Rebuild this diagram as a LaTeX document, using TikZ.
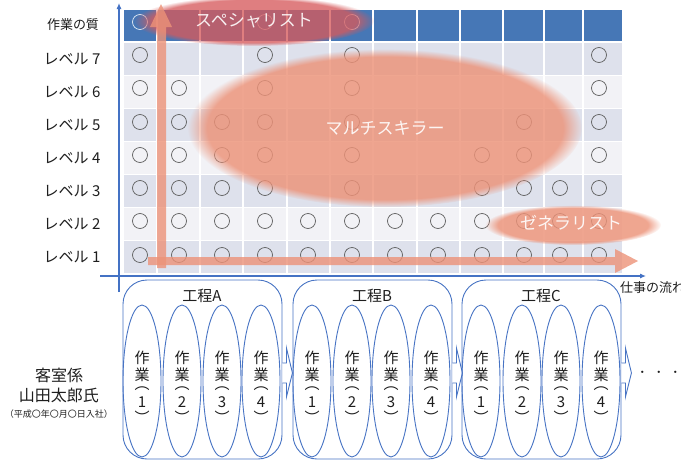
\documentclass[tikz,border=0pt]{standalone}
\usepackage{fontspec}
\setmainfont{Noto Sans CJK JP}
\usetikzlibrary{fadings,shapes.geometric,arrows.meta}
\definecolor{hdrblue}{RGB}{70,119,182}
\definecolor{rowdark}{RGB}{222,225,236}
\definecolor{rowlight}{RGB}{242,242,246}
\definecolor{salmon}{RGB}{236,146,120}
\definecolor{specred}{RGB}{214,90,92}
\definecolor{axisblue}{RGB}{68,114,196}
\definecolor{lineblue}{RGB}{72,116,196}
\definecolor{circgray}{RGB}{95,95,95}
\definecolor{txtdark}{RGB}{30,30,30}
\newcommand{\fsz}[1]{\fontsize{#1}{#1}\selectfont}
\begin{document}
\begin{tikzpicture}[x=1pt,y=-1pt,
  lvl/.style={font=\fsz{15}, text=txtdark, inner sep=0},
  okmark/.style={circle, draw=circgray, line width=0.7pt, minimum size=15pt, inner sep=0},
  hdrmark/.style={okmark, draw=white!85!hdrblue},
  blob/.style={fill=salmon, fill opacity=0.82, path fading=circle with fuzzy edge 10 percent},
  blobtext/.style={text=white, text opacity=0.9, font=\fsz{17}, inner sep=0},
  thickarrow/.style={fill=salmon, fill opacity=0.8},
  axis/.style={draw=axisblue, line width=1.1pt, -{Latex[length=6pt,width=5pt]}},
  proc/.style={draw=lineblue, line width=0.9pt, fill=white, rounded corners=24pt, minimum width=159pt, minimum height=179pt, inner sep=0},
  proctitle/.style={font=\fsz{15}, text=txtdark, inner sep=0},
  task/.style={ellipse, draw=lineblue, line width=0.9pt, minimum width=38pt, minimum height=152pt, inner sep=0},
  tasktext/.style={align=center, inner sep=0, font=\fontsize{15}{16.5}\selectfont, text=txtdark},
  flowarrow/.style={draw=lineblue, line width=0.9pt, fill=white},
  gridline/.style={draw=white, line width=1.5pt},
]
\useasboundingbox (0,0) rectangle (681,461);

% ---------- grid ----------
\fill[hdrblue] (124,10) rectangle (622,41);
\fill[rowdark]  (124,43)  rectangle (622,75);
\fill[rowlight] (124,76)  rectangle (622,108);
\fill[rowdark]  (124,109) rectangle (622,141);
\fill[rowlight] (124,142) rectangle (622,174);
\fill[rowdark]  (124,175) rectangle (622,207);
\fill[rowlight] (124,208) rectangle (622,240);
\fill[rowdark]  (124,241) rectangle (622,273);
\foreach \gx in {157,200,243,287,330,373,417,460,503,544,583}
  \draw[gridline] (\gx,10) -- (\gx,273);

% ---------- marks ----------
\foreach \cx [count=\i] in {140,265,352}
  \node[hdrmark] (h-\i) at (\cx,22) {};
\foreach \cx [count=\i] in {140,265,352,599}
  \node[okmark] (r7-\i) at (\cx,55) {};
\foreach \cx [count=\i] in {140,179,265,352,599}
  \node[okmark] (r6-\i) at (\cx,88) {};
\foreach \cx [count=\i] in {140,179,222,265,352,524,599}
  \node[okmark] (r5-\i) at (\cx,122) {};
\foreach \cx [count=\i] in {140,179,222,265,352,482,524,599}
  \node[okmark] (r4-\i) at (\cx,155) {};
\foreach \cx [count=\i] in {140,179,222,265,352,482,524,560,599}
  \node[okmark] (r3-\i) at (\cx,188) {};
\foreach \cx [count=\i] in {140,179,222,265,308,352,395,438,482,524,560,599}
  \node[okmark] (r2-\i) at (\cx,221) {};
\foreach \cx [count=\i] in {140,179,222,265,308,352,395,438,482,524,560,599}
  \node[okmark] (r1-\i) at (\cx,255) {};

% ---------- labels on the left ----------
\node[font=\fsz{13}, text=txtdark, inner sep=0] (quality) at (73,25) {作業の質};
\node[lvl] (l7) at (72,59)  {レベル 7};
\node[lvl] (l6) at (72,92)  {レベル 6};
\node[lvl] (l5) at (72,125) {レベル 5};
\node[lvl] (l4) at (72,158) {レベル 4};
\node[lvl] (l3) at (72,191) {レベル 3};
\node[lvl] (l2) at (72,224) {レベル 2};
\node[lvl] (l1) at (72,257) {レベル 1};

% ---------- axes ----------
\coordinate (yb) at (119,292);
\coordinate (yt) at (119,3);
\coordinate (xl) at (100,276);
\coordinate (xr) at (646,276);
\draw[axis] (yb) -- (yt);
\draw[axis] (xl) -- (xr);
\node[font=\fsz{13}, text=txtdark, anchor=west, inner sep=0] (flow) at (620,288) {仕事の流れ};

% ---------- overlays ----------
\fill[blob, fill=specred, fill opacity=0.78, path fading=circle with fuzzy edge 15 percent]
  (254,21) ellipse [x radius=120, y radius=25];
\fill[blob] (385,128) ellipse [x radius=197, y radius=79];
\fill[blob, path fading=circle with fuzzy edge 15 percent]
  (573,225) ellipse [x radius=88, y radius=20];

\fill[thickarrow] (157,268) -- (157,27) -- (150,27) -- (161,4) -- (172,27) -- (166,27) -- (166,268) -- cycle;
\fill[thickarrow] (148,257) -- (615,257) -- (615,249) -- (638,261) -- (615,273) -- (615,265) -- (148,265) -- cycle;

\node[blobtext] (spec) at (254,21) {スペシャリスト};
\node[blobtext] (multi) at (385,128) {マルチスキラー};
\node[blobtext] (gen) at (571,223) {ゼネラリスト};

% ---------- processes ----------
\node[proc] (pA) at (202.5,369.5) {};
\node[proc] (pB) at (372.5,369.5) {};
\node[proc] (pC) at (541.5,369.5) {};
\foreach \p in {pA,pB,pC}
  \draw[flowarrow] ([shift={(0,-6.5)}]\p.east) -- ++(4,0) -- ++(0,-15) -- ++(6,25) -- ++(-6,24) -- ++(0,-14) -- ++(-4,0);

\node[proctitle] (tA) at (202,296) {工程A};
\node[proctitle] (tB) at (372,296) {工程B};
\node[proctitle] (tC) at (541,296) {工程C};

\foreach \cx/\n/\k in {142/A/1,182/A/2,222/A/3,261/A/4,312/B/1,352/B/2,391/B/3,431/B/4,481/C/1,522/C/2,561/C/3,601/C/4}{
  \node[task] (w\n\k) at (\cx,381) {};
  \node[tasktext] (w\n\k t) at ([yshift=-6.5pt]w\n\k.center) {作\\[0.5pt]業\\[-7.7pt]︵\\[1.4pt]\k\\[-0.4pt]︶};
}

\node[font=\fsz{11}, text=txtdark, inner sep=0] (dots) at (658.75,374) {・\kern5.5pt・\kern5.5pt・};

% ---------- person ----------
\node[font=\fsz{16}, text=txtdark, inner sep=0] (p1) at (59,375) {客室係};
\node[font=\fsz{16}, text=txtdark, inner sep=0] (p2) at (59,395) {山田太郎氏};
\node[font=\fsz{9}, text=txtdark, inner sep=0] (p3) at (59,414) {（平成〇年〇月〇日入社）};
\end{tikzpicture}
\end{document}
